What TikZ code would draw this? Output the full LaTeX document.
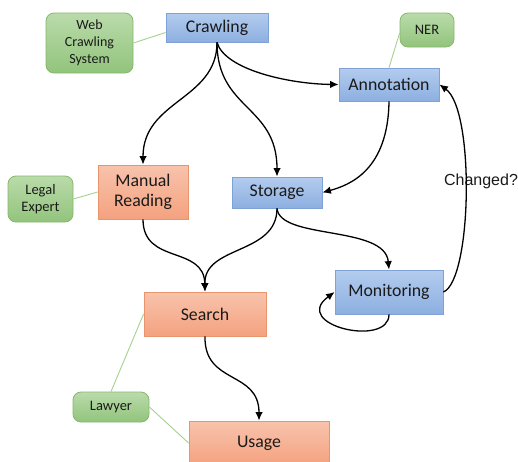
\documentclass[tikz,border=0pt]{standalone}
\usepackage{fontspec}
\setmainfont{Carlito}
\newfontfamily\arialfont{Liberation Sans}
\usetikzlibrary{arrows.meta,calc}
\definecolor{bluetop}{HTML}{B3CCEE}
\definecolor{bluebot}{HTML}{8DAFE0}
\definecolor{blueline}{HTML}{7EA2D6}
\definecolor{orgtop}{HTML}{F8C3AC}
\definecolor{orgbot}{HTML}{F4A27F}
\definecolor{orgline}{HTML}{E8956E}
\definecolor{grntop}{HTML}{BADBAA}
\definecolor{grnbot}{HTML}{92C47C}
\definecolor{grnline}{HTML}{86B86C}
\definecolor{grnconn}{HTML}{A8D08D}
\definecolor{txt}{HTML}{1A1A1A}
\tikzset{
  mainbox/.style={rectangle, inner sep=0pt, line width=0.8pt, align=center, text=txt,
    font=\fontsize{17.8}{20.5}\selectfont},
  bluebox/.style={mainbox, draw=blueline, top color=bluetop, bottom color=bluebot},
  orgbox/.style={mainbox, draw=orgline, top color=orgtop, bottom color=orgbot},
  grnbox/.style={rectangle, rounded corners=8pt, inner sep=0pt, line width=0.8pt, align=center,
    text=txt, draw=grnline, top color=grntop, bottom color=grnbot,
    font=\fontsize{14.5}{17.5}\selectfont},
  arr/.style={line width=1.3pt, -{Latex[length=8.5pt,width=7.5pt]}},
  gconn/.style={draw=grnconn, line width=0.9pt}
}
\begin{document}
\begin{tikzpicture}[x=1pt,y=-1pt]
\useasboundingbox (0,0) rectangle (518,461);
\clip (0,0) rectangle (518,461);
\fill[white] (0,0) rectangle (518,461);
% main boxes
\node[bluebox, minimum width=102pt, minimum height=29pt] (crawl) at (217,27.5) {Crawling};
\node[bluebox, minimum width=100pt, minimum height=33pt] (annot) at (389,84.5) {Annotation};
\node[orgbox, minimum width=90pt, minimum height=54pt] (manual) at (143,192) {Manual\\Reading};
\node[bluebox, minimum width=90pt, minimum height=31pt] (storage) at (277,192.5) {Storage};
\node[bluebox, minimum width=108pt, minimum height=44pt] (monit) at (389,292) {Monitoring};
\node[orgbox, minimum width=122pt, minimum height=44pt] (search) at (205,314) {Search};
\node[orgbox, minimum width=140pt, minimum height=44pt] (usage) at (259,443) {Usage};
% green boxes
\node[grnbox, minimum width=87pt, minimum height=60pt, font=\fontsize{14}{17}\selectfont] (wcs) at (89.5,43) {Web\\Crawling\\System};
\node[grnbox, minimum width=54pt, minimum height=34pt] (ner) at (427,30) {NER};
\node[grnbox, minimum width=65pt, minimum height=46pt] (legal) at (40.5,199) {Legal\\Expert};
\node[grnbox, minimum width=76pt, minimum height=30pt] (lawyer) at (111,407) {Lawyer};
% label
\node[font=\arialfont\fontsize{16}{18}\selectfont, text=txt] (chg) at (481,181) {Changed?};
% green connectors
\draw[gconn] (wcs.east) -- ($(crawl.west)+(0,5)$);
\draw[gconn] ($(ner.west)+(0,3)$) -- (annot.north);
\draw[gconn] (legal.east) -- (manual.west);
\draw[gconn] (lawyer.north) -- (search.west);
\draw[gconn] (lawyer.east) -- (usage.west);
% arrows
\draw[arr] (crawl.south) .. controls (217,100) and (143,100) .. (manual.north);
\draw[arr] (crawl.south) .. controls (217,110) and (277,105) .. (storage.north);
\draw[arr] (crawl.south) .. controls (225,70) and (290,84) .. (annot.west);
\draw[arr] (annot.south) .. controls (388,170) and (350,185) .. (storage.east);
\draw[arr] (manual.south) .. controls (143,265) and (204,245) .. (search.north);
\draw[arr] (storage.south) .. controls (277,255) and (204,245) .. (search.north);
\draw[arr] (storage.south) .. controls (280,240) and (385,225) .. (monit.north);
\draw[arr] (monit.south) .. controls (389,348) and (290,325) .. (monit.west);
\draw[arr] (monit.east) .. controls (472,280) and (475,110) .. (annot.east);
\draw[arr] (search.south) .. controls (204,385) and (259,370) .. (usage.north);
\end{tikzpicture}
\end{document}
